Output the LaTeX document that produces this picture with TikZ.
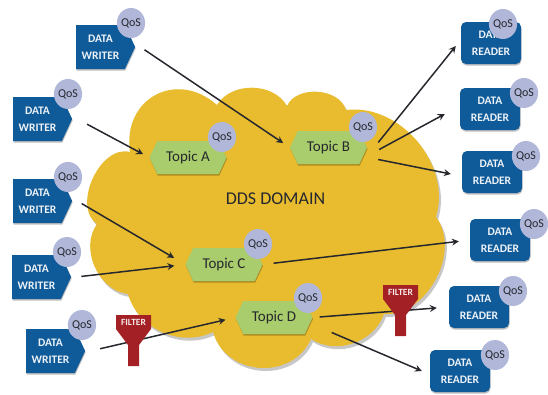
\documentclass[tikz,border=0pt]{standalone}
\usepackage{fontspec}
\setmainfont{Carlito}
\usetikzlibrary{arrows.meta,shapes.geometric,shapes.symbols,shadows}
\definecolor{ddsblue}{HTML}{0F5A99}
\definecolor{ddsgold}{HTML}{E8BC2E}
\definecolor{ddsgreen}{HTML}{A9CC6C}
\definecolor{ddsqos}{HTML}{B0B7D8}
\definecolor{ddsred}{HTML}{A32024}
\definecolor{ddsink}{HTML}{26282E}
\tikzset{
  softshadow/.style={drop shadow={shadow xshift=.5pt,shadow yshift=-1.5pt,opacity=.25,fill=black}},
  writer/.style={signal,signal to=east,signal pointer angle=130,fill=ddsblue,text=white!92!ddsblue,minimum width=59pt,minimum height=44pt,inner sep=0pt,align=center,font=\fontsize{11.5}{17}\selectfont\bfseries,softshadow},
  reader/.style={rectangle,rounded corners=5pt,fill=ddsblue,text=white!92!ddsblue,minimum width=60pt,minimum height=42pt,inner sep=0pt,align=center,font=\fontsize{11.5}{17}\selectfont\bfseries,softshadow},
  topic/.style={signal,signal to=east and west,signal pointer angle=130,fill=ddsgreen,text=ddsink,minimum width=77pt,minimum height=33pt,inner sep=0pt,font=\fontsize{15}{17}\selectfont,softshadow},
  qos/.style={ellipse,fill=ddsqos,text=ddsink,minimum width=25pt,minimum height=30pt,inner sep=0pt,font=\fontsize{12}{14}\selectfont},
  flow/.style={-{Stealth[length=7pt,width=7pt,inset=2.5pt]},line width=1.5pt,ddsink},
  filter/.pic={
    \fill[ddsred] (-17.5,-25) -- (17.5,-25) -- (17.5,-11) -- (5.5,5) -- (5.5,26) -- (-5.5,26) -- (-5.5,5) -- (-17.5,-11) -- cycle;
    \node[text=white!90!ddsred,font=\fontsize{9.5}{11}\selectfont\bfseries] (-label) at (0,-18) {FILTER};
  }
}
\newcommand{\cloudpath}{(217,105) to[bend left=60] (287,106) to[bend left=70] (346,110) to[bend left=57] (436,217) to[bend left=65] (384,314) to[bend left=52] (311,339) to[bend left=70,looseness=1.2] (213,332) to[bend left=50] (128,294) to[bend left=60] (97,224) to[bend left=80] (130,152) to[bend left=70,looseness=1.4] (217,105) -- cycle}
\begin{document}
\begin{tikzpicture}[x=1pt,y=-1pt]
  \useasboundingbox (0,0) rectangle (548,394);
  \fill[black!22,shift={(2,3)}] \cloudpath;
  \fill[ddsgold] \cloudpath;
  \node[text=ddsink,font=\fontsize{18}{20}\selectfont] (domain) at (275.5,199) {DDS DOMAIN};

  \node[writer] (w1) at (100.5,47) {DATA\\WRITER};
  \node[writer] (w2) at (37.5,119) {DATA\\WRITER};
  \node[writer] (w3) at (37.5,201) {DATA\\WRITER};
  \node[writer] (w4) at (36.5,277) {DATA\\WRITER};
  \node[writer] (w5) at (50.5,351) {DATA\\WRITER};

  \node[reader] (r1) at (491,43) {DATA\\READER};
  \node[reader] (r2) at (490,109) {DATA\\READER};
  \node[reader] (r3) at (492,172) {DATA\\READER};
  \node[reader] (r4) at (500,240) {DATA\\READER};
  \node[reader] (r5) at (479,307) {DATA\\READER};
  \node[reader] (r6) at (460,371) {DATA\\READER};

  \node[topic] (ta) at (188,157.5) {Topic A};
  \node[topic] (tb) at (328.5,147.5) {Topic B};
  \node[topic] (tc) at (224,264.5) {Topic C};
  \node[topic] (td) at (274,317.5) {Topic D};

  \node[qos] (qw1) at (131,23) {QoS};
  \node[qos] (qw2) at (68,94) {QoS};
  \node[qos] (qw3) at (68,177) {QoS};
  \node[qos] (qw4) at (67,252) {QoS};
  \node[qos] (qw5) at (82,325) {QoS};
  \node[qos] (qr1) at (503,24) {QoS};
  \node[qos] (qr2) at (524,93) {QoS};
  \node[qos] (qr3) at (526,156) {QoS};
  \node[qos] (qr4) at (534,224) {QoS};
  \node[qos] (qr5) at (513,291) {QoS};
  \node[qos] (qr6) at (495,355) {QoS};
  \node[qos] (qa) at (222,137) {QoS};
  \node[qos] (qb) at (363,127) {QoS};
  \node[qos] (qc) at (258,244) {QoS};
  \node[qos] (qd) at (308,298) {QoS};

  \draw[flow,shorten <=5pt,shorten >=8pt] ([xshift=5pt]w1.east) -- (tb.west);
  \draw[flow,shorten <=11pt,shorten >=7pt] ([xshift=5pt]w2.east) -- (ta.west);
  \draw[flow,shorten <=5pt,shorten >=13pt] ([xshift=5pt]w3.east) -- (tc.west);
  \draw[flow,shorten <=5pt,shorten >=11pt] ([xshift=5pt]w4.east) -- (tc.west);
  \draw[flow,shorten <=10pt,shorten >=10pt] ([xshift=5pt]w5.east) -- (td.west);
  \draw[flow] ([shift={(11,-5)}]tb.east) -- ([shift={(-5,3)}]r1.west);
  \draw[flow] ([shift={(12,2)}]tb.east) -- ([shift={(-15,5)}]r2.west);
  \draw[flow] ([shift={(11,12)}]tb.east) -- ([shift={(-11,2)}]r3.west);
  \draw[flow,shorten <=11pt,shorten >=11pt] (tc.east) -- (r4.west);
  \draw[flow,shorten <=7pt,shorten >=12pt] (td.east) -- (r5.west);
  \draw[flow] ([shift={(19,15)}]td.east) -- ([shift={(-8,0)}]r6.west);

  \pic (f1) at (133.5,340) {filter};
  \pic (f2) at (400.5,310) {filter};
\end{tikzpicture}
\end{document}
